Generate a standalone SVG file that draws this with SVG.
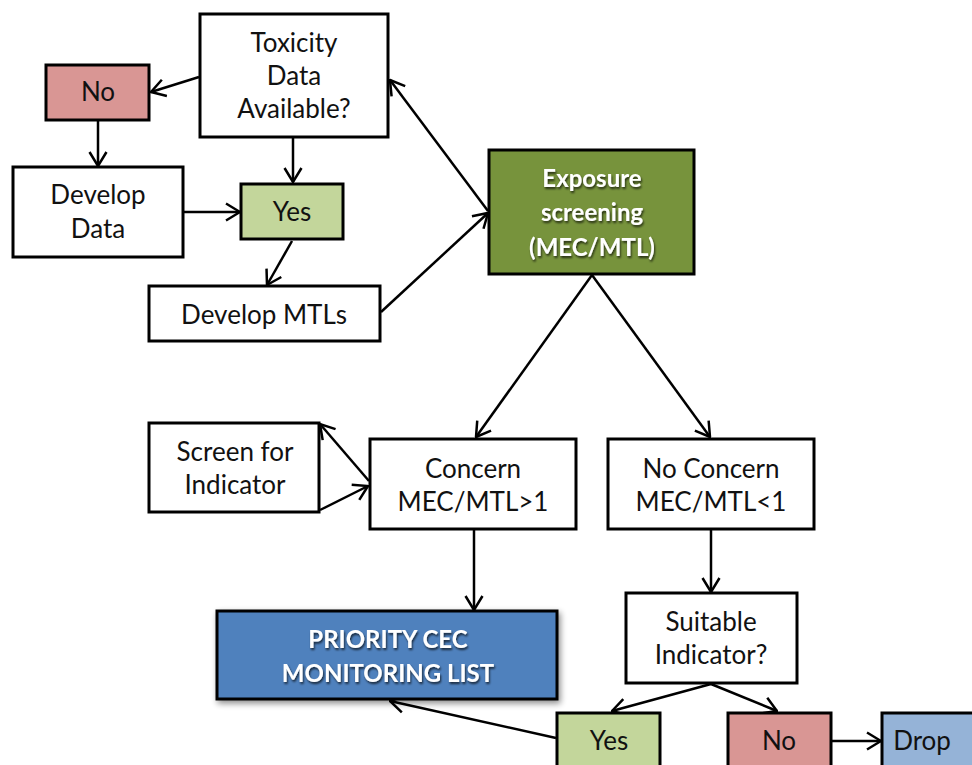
<svg xmlns="http://www.w3.org/2000/svg" width="972" height="765" viewBox="0 0 972 765">
<defs>
<marker id="ah" viewBox="0 0 16 20" refX="15" refY="10" markerWidth="16" markerHeight="20" markerUnits="userSpaceOnUse" orient="auto">
<path d="M1,1.5 L15,10 L1,18.5" fill="none" stroke="#000" stroke-width="2.5"/>
</marker>
<filter id="sh" x="-10%" y="-10%" width="125%" height="130%">
<feGaussianBlur in="SourceAlpha" stdDeviation="3"/>
<feOffset dx="2" dy="3" result="b"/>
<feComponentTransfer><feFuncA type="linear" slope="0.45"/></feComponentTransfer>
<feMerge><feMergeNode/><feMergeNode in="SourceGraphic"/></feMerge>
</filter>
<filter id="ts" x="-10%" y="-20%" width="120%" height="150%">
<feGaussianBlur in="SourceAlpha" stdDeviation="1.2"/>
<feOffset dx="1" dy="1.5"/>
<feComponentTransfer><feFuncA type="linear" slope="0.7"/></feComponentTransfer>
<feMerge><feMergeNode/><feMergeNode in="SourceGraphic"/></feMerge>
</filter>
</defs>
<style>
.b{stroke:#000;stroke-width:3}
.w{fill:#fff}
.r{fill:#d99694}
.g{fill:#c3d69b}
.dg{fill:#77933c}
.bl{fill:#4f81bd}
.lb{fill:#95b3d7}
text{font-family:Lato,"Open Sans","Liberation Sans",sans-serif;font-size:26px;fill:#111;text-anchor:middle}
.t{fill:#fff;font-weight:bold;font-size:24px}
.c{fill:none;stroke:#000;stroke-width:2.5;marker-end:url(#ah)}
</style>
<rect width="972" height="765" fill="#fff"/>
<g id="connectors">
<line class="c" x1="199" y1="77" x2="151" y2="92"/>
<line class="c" x1="293" y1="138" x2="293" y2="182"/>
<line class="c" x1="98" y1="121" x2="98" y2="166"/>
<line class="c" x1="184" y1="212" x2="240" y2="212"/>
<line class="c" x1="292" y1="241" x2="267" y2="285"/>
<line class="c" x1="381" y1="312" x2="488" y2="213"/>
<line class="c" x1="488" y1="211" x2="390" y2="80"/>
<line class="c" x1="592" y1="275" x2="476" y2="437"/>
<line class="c" x1="592" y1="275" x2="710" y2="437"/>
<line class="c" x1="369" y1="481" x2="320" y2="424"/>
<line class="c" x1="320" y1="510" x2="368" y2="486"/>
<line class="c" x1="474" y1="530" x2="474" y2="610"/>
<line class="c" x1="711" y1="530" x2="711" y2="592"/>
<line class="c" x1="711" y1="684" x2="612" y2="711"/>
<line class="c" x1="711" y1="684" x2="777" y2="711"/>
<line class="c" x1="832" y1="741" x2="881" y2="741"/>
<line class="c" x1="556" y1="738" x2="390" y2="701"/>
</g>
<g id="toxicity"><rect class="b w" x="200" y="14" width="188" height="123"/><text x="294" y="52">Toxicity</text><text x="294" y="85">Data</text><text x="294" y="118">Available?</text></g>
<g id="no1"><rect class="b r" x="46" y="65" width="103" height="55"/><text x="98" y="101">No</text></g>
<g id="develop-data"><rect class="b w" x="13" y="167" width="170" height="90"/><text x="98" y="204">Develop</text><text x="98" y="238">Data</text></g>
<g id="yes1"><rect class="b g" x="241" y="184" width="102" height="55"/><text x="292" y="221">Yes</text></g>
<g id="develop-mtls"><rect class="b w" x="149" y="286" width="231" height="55"/><text x="264" y="324">Develop MTLs</text></g>
<g id="exposure"><rect class="b dg" x="489" y="150" width="205" height="124"/><g filter="url(#ts)"><text class="t" x="592" y="187">Exposure</text><text class="t" x="592" y="221">screening</text><text class="t" x="592" y="256">(MEC/MTL)</text></g></g>
<g id="screen"><rect class="b w" x="149" y="423" width="170" height="89"/><text x="235" y="461">Screen for</text><text x="235" y="494">Indicator</text></g>
<g id="concern"><rect class="b w" x="370" y="439" width="206" height="90"/><text x="473" y="478">Concern</text><text x="473" y="511">MEC/MTL&gt;1</text></g>
<g id="noconcern"><rect class="b w" x="608" y="439" width="206" height="90"/><text x="711" y="478">No Concern</text><text x="711" y="511">MEC/MTL&lt;1</text></g>
<g id="priority"><rect class="b bl" x="217" y="611" width="340" height="88" filter="url(#sh)"/><g filter="url(#ts)"><text class="t" x="388" y="648">PRIORITY CEC</text><text class="t" x="388" y="682">MONITORING LIST</text></g></g>
<g id="suitable"><rect class="b w" x="626" y="593" width="171" height="90"/><text x="711" y="631">Suitable</text><text x="711" y="664">Indicator?</text></g>
<g id="yes2"><rect class="b g" x="557" y="713" width="103" height="60"/><text x="609" y="750">Yes</text></g>
<g id="no2"><rect class="b r" x="728" y="713" width="103" height="60"/><text x="779" y="750">No</text></g>
<g id="drop"><rect class="b lb" x="882" y="713" width="100" height="60"/><text x="922" y="750">Drop</text></g>
</svg>
